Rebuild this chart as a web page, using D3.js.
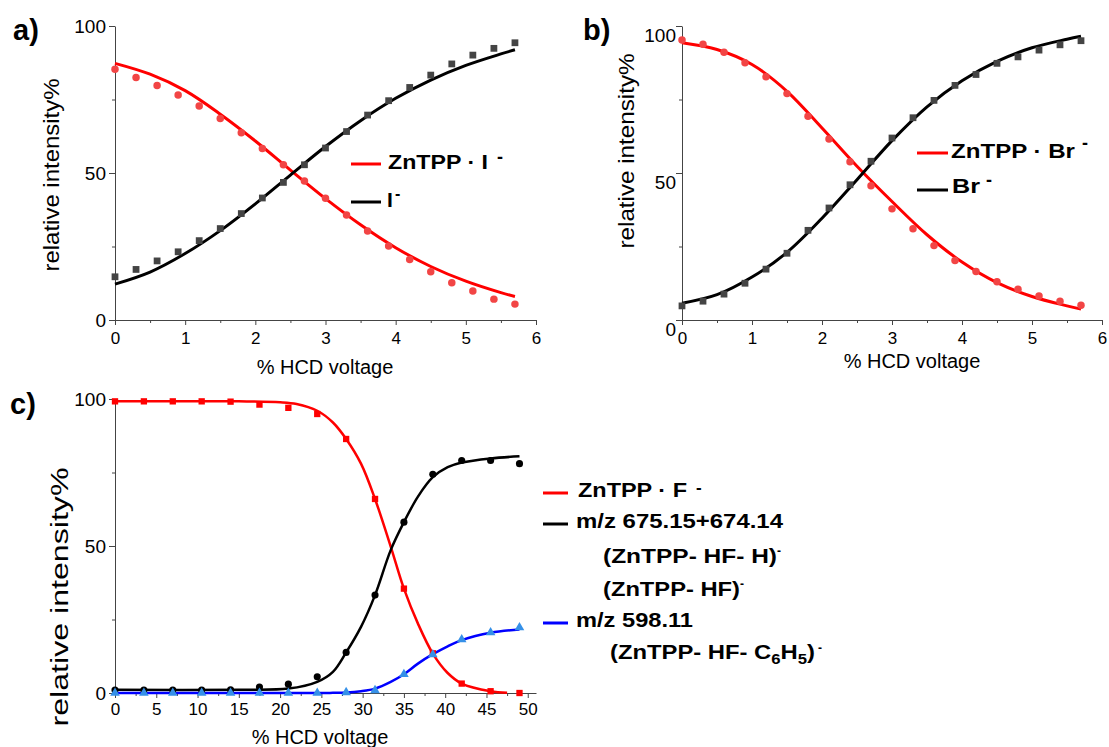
<!DOCTYPE html>
<html>
<head>
<meta charset="utf-8">
<script src="https://cdn.jsdelivr.net/npm/d3@7"></script>
<style>
	body { margin: 0; background: #fff; }
	svg { display: block; font-family: Arial, "Liberation Sans", sans-serif; }
	.axis path, .axis line { stroke: #444; stroke-width: 1; }
	.axis text { fill: #000; font-family: Arial, "Liberation Sans", sans-serif; }
</style>
</head>
<body>
<svg id="fig" width="1109" height="747"></svg>
<script>
	// a) ZnTPP.I- / I-   and   b) ZnTPP.Br- / Br-
	var xAB = [0, 0.3, 0.6, 0.9, 1.2, 1.5, 1.8, 2.1, 2.4, 2.7, 3.0, 3.3, 3.6, 3.9, 4.2, 4.5, 4.8, 5.1, 5.4, 5.7];
	var aComplex = [85.3, 82.5, 79.8, 76.5, 72.8, 68.5, 63.7, 58.3, 52.8, 47.3, 41.4, 35.7, 30.3, 25.2, 20.6, 16.4, 12.7, 9.9, 7.1, 5.4];
	var aIodide = [14.7, 17.2, 20.1, 23.2, 27.0, 31.1, 36.2, 41.5, 46.8, 52.8, 58.5, 64.1, 69.7, 74.6, 79.1, 83.3, 87.1, 90.1, 92.4, 94.3];
	var bComplex = [95.2, 93.8, 91.1, 87.5, 82.7, 77.0, 69.3, 61.6, 53.8, 45.7, 37.8, 31.0, 25.3, 20.2, 16.5, 13.0, 10.5, 8.2, 6.4, 5.0];
	var bBromide = [4.8, 6.4, 8.8, 12.5, 17.3, 22.7, 30.5, 38.1, 46.0, 54.0, 61.9, 68.8, 74.7, 79.8, 83.5, 87.3, 89.5, 91.8, 93.6, 95.0];

	// fitted curves
	var fitXAB = [0, 0.5, 1, 1.5, 2, 2.5, 3, 3.5, 4, 4.5, 5, 5.5, 5.7];
	var aComplexFit = [87.3, 83.6, 78.0, 70.0, 60.9, 51.0, 41.3, 32.4, 24.6, 18.2, 13.2, 9.3, 8.0];
	var aIodideFit = [12.2, 16.3, 22.6, 30.4, 39.5, 49.3, 59.0, 67.8, 75.4, 81.6, 86.6, 90.5, 91.9];
	var bComplexFit = [94.3, 92.0, 86.9, 77.8, 65.3, 52.3, 40.3, 29.0, 19.7, 12.7, 8.0, 4.8, 3.7];
	var bBromideFit = [5.7, 8.6, 14.6, 23.0, 34.6, 47.7, 61.0, 72.5, 81.4, 88.0, 92.6, 95.5, 96.5];

	// c) ZnTPP.F-
	var xC = [0, 3.5, 7, 10.5, 14, 17.5, 21, 24.5, 28, 31.5, 35, 38.5, 42, 45.5, 49];
	var cComplex = [99.2, 99.2, 99.2, 99.2, 99.1, 98.1, 97.0, 94.9, 86.4, 66.0, 35.5, 13.5, 3.2, 0.6, 0];
	var cLossHF = [1.0, 1.0, 1.0, 1.0, 1.1, 2.0, 3.0, 5.5, 13.8, 33.3, 58.1, 74.4, 79.1, 79.1, 78.0];
	var cLossPh = [0, 0, 0, 0, 0, 0, 0, 0, 0.2, 0.9, 6.4, 13.1, 18.2, 20.6, 22.3];

	var fitXCComplex = [0, 15, 20, 22, 24.5, 26.4, 28, 29.8, 31.5, 33.4, 35, 36.7, 38.5, 40.3, 42, 45.5, 47.5];
	var cComplexFit = [99.2, 99.2, 98.9, 98.3, 96.0, 92.0, 86.4, 78.0, 66.0, 49.8, 35.5, 23.6, 13.4, 6.8, 3.2, 0.6, 0.1];
	var fitXC = [0, 15, 21, 24.5, 26.4, 28, 29.8, 31.5, 33.4, 35, 36.7, 38.5, 40.3, 42, 45.5, 49];
	var cLossHFFit = [1.1, 1.1, 1.5, 3.8, 7.2, 13.8, 22.5, 33.3, 48.6, 58.1, 66.8, 73.4, 76.8, 78.4, 79.8, 80.5];
	var cLossPhFit = [0, 0, 0, 0, 0.05, 0.15, 0.6, 1.5, 3.8, 6.4, 10.0, 13.2, 15.9, 18.0, 20.5, 21.6];

	var xTicksAB = [0, 1, 2, 3, 4, 5, 6];
	var xMinorAB = [0.5, 1.5, 2.5, 3.5, 4.5, 5.5];
	var xTicksC = [0, 5, 10, 15, 20, 25, 30, 35, 40, 45, 50];
	var xMinorC = [2.5, 7.5, 12.5, 17.5, 22.5, 27.5, 32.5, 37.5, 42.5, 47.5];
	var yTicks = [0, 50, 100];
	var yMinor = [25, 75];

	var svg = d3.select("#fig");
	var fmt = d3.format("d");

	function zip(xs, ys) { return xs.map(function(v, i) { return [v, ys[i]]; }); }

	function panel(cfg) {
		var x = d3.scaleLinear().domain(cfg.xDomain).range(cfg.xRange);
		var y = d3.scaleLinear().domain([0, 100]).range(cfg.yRange);
		var g = svg.append("g");

		// minor ticks
		g.append("g").attr("class", "axis")
			.attr("transform", "translate(0," + cfg.yRange[0] + ")")
			.call(d3.axisBottom(x).tickValues(cfg.xMinor).tickSize(3).tickFormat("").tickSizeOuter(0))
			.call(function(s) { s.select(".domain").remove(); });
		g.append("g").attr("class", "axis")
			.attr("transform", "translate(" + cfg.xRange[0] + ",0)")
			.call(d3.axisLeft(y).tickValues(yMinor).tickSize(3).tickFormat("").tickSizeOuter(0))
			.call(function(s) { s.select(".domain").remove(); });

		var xa = g.append("g").attr("class", "axis")
			.attr("transform", "translate(0," + cfg.yRange[0] + ")")
			.call(d3.axisBottom(x).tickValues(cfg.xTicks).tickFormat(fmt).tickSize(5).tickPadding(cfg.xPad).tickSizeOuter(0));
		xa.selectAll("text").style("font-size", "17px");

		var ya = g.append("g").attr("class", "axis")
			.attr("transform", "translate(" + cfg.xRange[0] + ",0)")
			.call(d3.axisLeft(y).tickValues(yTicks).tickFormat(fmt).tickSize(6).tickPadding(cfg.yPad).tickSizeOuter(0));
		ya.selectAll("text").style("font-size", "19px")
			.attr("transform", "translate(0," + cfg.yShift + ")");

		var line = d3.line()
			.x(function(d) { return x(d[0]); })
			.y(function(d) { return y(d[1]); })
			.curve(d3.curveCatmullRom.alpha(0.5));

		cfg.series.forEach(function(s) {
			g.append("path")
				.attr("d", line(zip(s.fitX, s.fit)))
				.attr("fill", "none")
				.attr("stroke", s.line)
				.attr("stroke-width", cfg.lineWidth);
		});
		cfg.series.forEach(function(s) {
			g.selectAll(null)
				.data(zip(s.x, s.y))
				.enter().append("path")
				.attr("d", d3.symbol().type(s.shape).size(s.size))
				.attr("transform", function(d) { return "translate(" + x(d[0]) + "," + y(d[1]) + ")"; })
				.attr("fill", s.marker);
		});

		// titles
		svg.append("text")
			.attr("transform", "translate(" + cfg.yTitle[0] + "," + cfg.yTitle[1] + ") rotate(-90)")
			.attr("text-anchor", "middle")
			.attr("textLength", cfg.yTitle[3])
			.attr("lengthAdjust", "spacingAndGlyphs")
			.style("font-size", cfg.yTitle[2] + "px")
			.text("relative intensity%");
		svg.append("text")
			.attr("x", cfg.xTitle[0]).attr("y", cfg.xTitle[1])
			.attr("text-anchor", "middle")
			.style("font-size", "20px")
			.text("% HCD voltage");
		svg.append("text")
			.attr("x", cfg.tag[0]).attr("y", cfg.tag[1])
			.style("font-size", "29px").style("font-weight", "bold")
			.text(cfg.tag[2]);
	}

	panel({
		xDomain: [0, 6], xRange: [115, 536], yRange: [320, 26],
		xTicks: xTicksAB, xMinor: xMinorAB, xPad: 7, yPad: 3, yShift: 0, lineWidth: 3,
		yTitle: [59, 175, 22, 193], xTitle: [325, 374], tag: [13, 40, "a)"],
		series: [
			{ x: xAB, y: aComplex, fitX: fitXAB, fit: aComplexFit, line: "#ff0000", marker: "#f24545", shape: d3.symbolCircle, size: 44 },
			{ x: xAB, y: aIodide, fitX: fitXAB, fit: aIodideFit, line: "#000000", marker: "#444444", shape: d3.symbolSquare, size: 46 }
		]
	});

	panel({
		xDomain: [0, 6], xRange: [682, 1102], yRange: [320, 26],
		xTicks: xTicksAB, xMinor: xMinorAB, xPad: 7, yPad: 0, yShift: 9, lineWidth: 3,
		yTitle: [634, 151, 22, 195], xTitle: [912, 368], tag: [583, 40, "b)"],
		series: [
			{ x: xAB, y: bComplex, fitX: fitXAB, fit: bComplexFit, line: "#ff0000", marker: "#f24545", shape: d3.symbolCircle, size: 44 },
			{ x: xAB, y: bBromide, fitX: fitXAB, fit: bBromideFit, line: "#000000", marker: "#444444", shape: d3.symbolSquare, size: 46 }
		]
	});

	panel({
		xDomain: [0, 51], xRange: [115, 536], yRange: [693, 399],
		xTicks: xTicksC, xMinor: xMinorC, xPad: 5, yPad: 3, yShift: 0, lineWidth: 2.5,
		yTitle: [68, 597, 23, 259], xTitle: [320, 744], tag: [10, 414, "c)"],
		series: [
			{ x: xC, y: cComplex, fitX: fitXCComplex, fit: cComplexFit, line: "#ff0000", marker: "#ff0000", shape: d3.symbolSquare, size: 40 },
			{ x: xC, y: cLossHF, fitX: fitXC, fit: cLossHFFit, line: "#000000", marker: "#000000", shape: d3.symbolCircle, size: 40 },
			{ x: xC, y: cLossPh, fitX: fitXC, fit: cLossPhFit, line: "#0000ff", marker: "#3590e8", shape: d3.symbolTriangle, size: 40 }
		]
	});

	// legends
	function key(x1, x2, y, color) {
		svg.append("line").attr("x1", x1).attr("x2", x2).attr("y1", y).attr("y2", y)
			.attr("stroke", color).attr("stroke-width", 3);
	}
	function label(x, y, size, len, txt) {
		var t = svg.append("text").attr("x", x).attr("y", y)
			.style("font-size", size + "px").style("font-weight", "bold");
		if (len) t.attr("textLength", len).attr("lengthAdjust", "spacingAndGlyphs");
		t.text(txt);
		return t;
	}

	key(351, 381, 164, "#ff0000");
	label(388, 169, 21, 100, "ZnTPP · I");
	label(497, 163, 18, 0, "-");
	key(351, 381, 202, "#000000");
	label(387, 207, 21, 0, "I");
	label(395, 199, 16, 0, "-");

	key(917, 948, 153, "#ff0000");
	label(951, 158, 21, 124, "ZnTPP · Br");
	label(1082, 149, 18, 0, "-");
	key(917, 948, 190, "#000000");
	label(952, 193, 21, 28, "Br");
	label(986, 186, 18, 0, "-");

	key(543, 568, 493, "#ff0000");
	label(578, 497, 20, 109, "ZnTPP · F");
	label(696, 493, 17, 0, "-");
	key(543, 568, 524, "#000000");
	label(576, 528, 20, 207, "m/z 675.15+674.14");
	label(603, 563, 20, 174, "(ZnTPP- HF- H)");
	label(777, 555, 12, 0, "-");
	label(603, 596, 20, 137, "(ZnTPP- HF)");
	label(740, 588, 12, 0, "-");
	key(543, 568, 623, "#0000ff");
	label(576, 627, 20, 117, "m/z 598.11");
	var sub = label(610, 659, 20, 205, "(ZnTPP- HF- C");
	sub.append("tspan").attr("dy", 5).style("font-size", "14px").text("6");
	sub.append("tspan").attr("dy", -5).text("H");
	sub.append("tspan").attr("dy", 5).style("font-size", "14px").text("5");
	sub.append("tspan").attr("dy", -5).text(")");
	label(818, 652, 12, 0, "-");
</script>
</body>
</html>
